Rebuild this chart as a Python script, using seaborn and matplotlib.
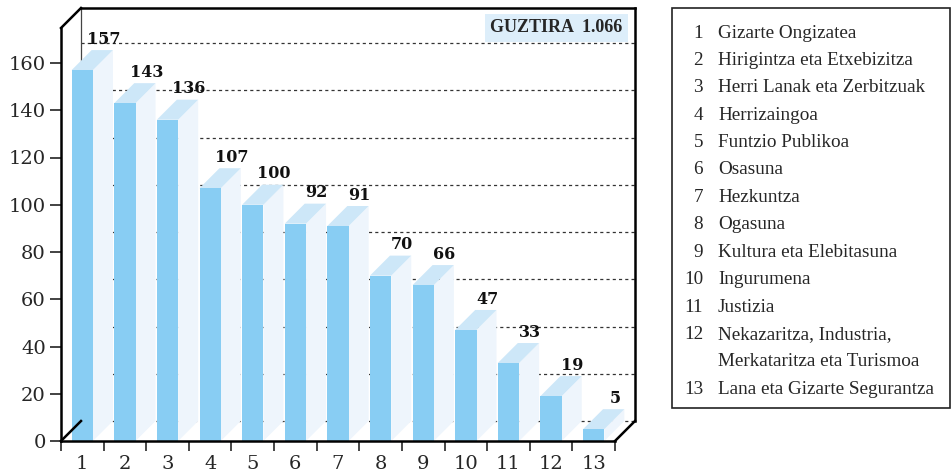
import numpy as np
import matplotlib.pyplot as plt
import seaborn as sns
from matplotlib.patches import Polygon, Rectangle

# data
categories = ["1", "2", "3", "4", "5", "6", "7", "8", "9", "10", "11", "12", "13"]
values = [157, 143, 136, 107, 100, 92, 91, 70, 66, 47, 33, 19, 5]
legend_names = [
    "Gizarte Ongizatea",
    "Hirigintza eta Etxebizitza",
    "Herri Lanak eta Zerbitzuak",
    "Herrizaingoa",
    "Funtzio Publikoa",
    "Osasuna",
    "Hezkuntza",
    "Ogasuna",
    "Kultura eta Elebitasuna",
    "Ingurumena",
    "Justizia",
    "Nekazaritza, Industria,\nMerkataritza eta Turismoa",
    "Lana eta Gizarte Segurantza",
]
total_label = "GUZTIRA  1.066"

FRONT = "#88CDF3"
TOP = "#CDE7F8"
SIDE = "#EEF5FC"

sns.set_style("white")
plt.rcParams["font.family"] = ["DejaVu Serif"]

fig = plt.figure(figsize=(9.52, 4.76), dpi=100)
W, H = 952, 476
# axes spans from front-left axis (x=61) to back-right wall (x=635), baseline y=441 to top y=8
ax = fig.add_axes([61 / W, (H - 441) / H, (635 - 61) / W, (441 - 8) / H])

n = len(categories)
px_per_x = (615 - 61) / n
px_per_y = (441 - 63) / 160
dx = 20 / px_per_x          # depth offset in data units
dy = 20 / px_per_y
xmax = n - 0.5 + dx
ymax = (441 - 8) / px_per_y

# back wall dashed gridlines
for g in range(0, 161, 20):
    ax.plot([-0.5 + dx, xmax], [g + dy, g + dy], color="#333333", lw=0.9,
            ls=(0, (2.5, 2.5)), zorder=1, clip_on=False)
# back-left vertical edge
ax.plot([-0.5 + dx, -0.5 + dx], [dy, ymax], color="#444444", lw=0.9, zorder=1, clip_on=False)

# front faces via seaborn
sns.barplot(x=categories, y=values, order=categories, color=FRONT, saturation=1,
            width=0.5, ax=ax, zorder=3, edgecolor="none", linewidth=0)

hw = 0.25
for i, v in enumerate(values):
    side = Polygon([(i + hw, 0), (i + hw + dx, dy), (i + hw + dx, v + dy), (i + hw, v)],
                   closed=True, facecolor=SIDE, edgecolor="none", zorder=2)
    top = Polygon([(i - hw, v), (i + hw, v), (i + hw + dx, v + dy), (i - hw + dx, v + dy)],
                  closed=True, facecolor=TOP, edgecolor="none", zorder=2)
    ax.add_patch(side)
    ax.add_patch(top)
    ax.text(i + dx + 0.03, v + dy + 1.0, str(v), ha="center", va="bottom",
            fontsize=11.5, fontweight="bold", color="#111111", zorder=5)

# frame lines
lw = 1.8
frame = [
    ([-0.5, -0.5], [0, ymax - dy]),
    ([-0.5, -0.5 + dx], [ymax - dy, ymax]),
    ([-0.5 + dx, xmax], [ymax, ymax]),
    ([xmax, xmax], [ymax, dy]),
    ([xmax, n - 0.5], [dy, 0]),
    ([-0.5, n - 0.5], [0, 0]),
    ([-0.5, -0.5 + dx], [0, dy]),
]
for xs, ys in frame:
    ax.plot(xs, ys, color="black", lw=lw, zorder=6, clip_on=False, solid_capstyle="projecting")

ax.set_xlim(-0.5, xmax)
ax.set_ylim(0, ymax)
for s in ax.spines.values():
    s.set_visible(False)
ax.set_xlabel("")
ax.set_ylabel("")

ax.set_yticks(range(0, 161, 20))
ax.tick_params(axis="y", length=8, width=1.2, direction="out", pad=3,
               labelsize=14, left=True, color="#222222")
ax.set_xticks(np.arange(n))
ax.set_xticklabels(categories)
ax.set_xticks(np.arange(-0.5, n, 1), minor=True)
ax.tick_params(axis="x", which="major", length=0, pad=10, labelsize=14)
ax.tick_params(axis="x", which="minor", length=7, width=1.2, direction="out", bottom=True)

# total box
ax.text(xmax - 0.3, ymax - 8.3, total_label, ha="right", va="center",
        fontsize=13, fontweight="bold", family="Liberation Serif", zorder=7,
        bbox=dict(boxstyle="square,pad=0.3", facecolor="#DDEEFA", edgecolor="none"))

# legend box
fig.patches.append(Rectangle((672 / W, (H - 408) / H), (950 - 672) / W, (408 - 8) / H,
                             transform=fig.transFigure, facecolor="white",
                             edgecolor="#222222", lw=1.2))
yy = 33
for i, name in enumerate(legend_names):
    fig.text(703 / W, (H - yy) / H, str(i + 1), ha="right", va="center",
             fontsize=13.8, family="Liberation Serif")
    lines = name.split("\n")
    for ln in lines:
        fig.text(718 / W, (H - yy) / H, ln, ha="left", va="center",
                 fontsize=13.8, family="Liberation Serif")
        yy += 27.4

fig.savefig("out.png", dpi=100)
